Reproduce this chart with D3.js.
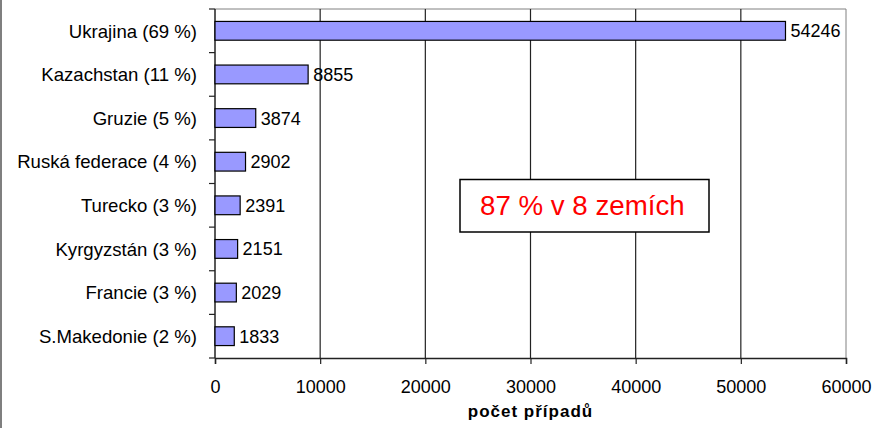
<!DOCTYPE html>
<html>
<head>
<meta charset="utf-8">
<script src="https://cdn.jsdelivr.net/npm/d3@7"></script>
<style>
  html, body { margin: 0; padding: 0; background: #fff; }
  svg { display: block; font-family: "Liberation Sans", Arial, sans-serif; }
</style>
</head>
<body>
<svg id="chart" width="874" height="428"></svg>
<script>
// Countries with the largest number of cases
const countries = ["Ukrajina (69 %)", "Kazachstan (11 %)", "Gruzie (5 %)", "Ruská federace (4 %)",
                   "Turecko (3 %)", "Kyrgyzstán (3 %)", "Francie (3 %)", "S.Makedonie (2 %)"];
const cases = [54246, 8855, 3874, 2902, 2391, 2151, 2029, 1833];
const xTicks = [0, 10000, 20000, 30000, 40000, 50000, 60000];
const xTitle = "počet případů";
const note = "87 % v 8 zemích";

const svg = d3.select("#chart");
const m = { left: 215, right: 846, top: 9, bottom: 358 };

const x = d3.scaleLinear().domain([0, 60000]).range([m.left, m.right]);
const y = d3.scaleBand().domain(countries).range([m.top, m.bottom]).paddingInner(0.57).paddingOuter(0.285);
const yTicks = d3.scaleBand().domain(countries).range([m.top, m.bottom]);

// outer chart border (left edge)
svg.append("line").attr("x1", 1).attr("x2", 1).attr("y1", 0).attr("y2", 428)
  .attr("stroke", "#555").attr("stroke-width", 1.5);

// plot frame (top and right)
svg.append("path")
  .attr("d", `M${m.left},${m.top}H${m.right}V${m.bottom}`)
  .attr("fill", "none").attr("stroke", "#808080").attr("stroke-width", 1);

// vertical gridlines
svg.append("g").selectAll("line").data(xTicks.slice(1, -1)).join("line")
  .attr("x1", d => x(d)).attr("x2", d => x(d))
  .attr("y1", m.top).attr("y2", m.bottom)
  .attr("stroke", "#222").attr("stroke-width", 1.2);

// x axis
const xAxis = svg.append("g").attr("transform", `translate(0,${m.bottom})`)
  .call(d3.axisBottom(x).tickValues(xTicks).tickFormat(d3.format("d")).tickSizeOuter(0).tickSize(6).tickPadding(16));
xAxis.select(".domain").attr("stroke", "#222").attr("stroke-width", 1.5);
xAxis.selectAll(".tick line").attr("stroke", "#222").attr("stroke-width", 1.2);
xAxis.selectAll("text").attr("font-size", 18).attr("fill", "#000")
  .attr("font-family", "'Liberation Sans', Arial, sans-serif");

// y axis line and category separators
svg.append("line").attr("x1", m.left).attr("x2", m.left).attr("y1", m.top).attr("y2", m.bottom)
  .attr("stroke", "#222").attr("stroke-width", 1.5);
const sepY = countries.map(c => yTicks(c)).concat([m.bottom]);
svg.append("g").selectAll("line").data(sepY).join("line")
  .attr("x1", m.left - 6).attr("x2", m.left)
  .attr("y1", d => d).attr("y2", d => d)
  .attr("stroke", "#222").attr("stroke-width", 1.2);

// category labels
svg.append("g").selectAll("text").data(countries).join("text")
  .attr("x", 197).attr("y", d => yTicks(d) + yTicks.bandwidth() / 2)
  .attr("dy", "0.36em").attr("text-anchor", "end").attr("font-size", 18.6).attr("fill", "#000")
  .text(d => d);

// bars
svg.append("g").selectAll("rect").data(countries).join("rect")
  .attr("x", x(0)).attr("y", d => y(d))
  .attr("width", (d, i) => x(cases[i]) - x(0)).attr("height", y.bandwidth())
  .attr("fill", "#9999FF").attr("stroke", "#000").attr("stroke-width", 1.2);

// value labels
svg.append("g").selectAll("text").data(countries).join("text")
  .attr("x", (d, i) => x(cases[i]) + 5).attr("y", d => y(d) + y.bandwidth() / 2)
  .attr("dy", "0.36em").attr("font-size", 18).attr("fill", "#000")
  .text((d, i) => cases[i]);

// axis title
svg.append("text").attr("x", (m.left + m.right) / 2).attr("y", 417)
  .attr("text-anchor", "middle").attr("font-size", 17).attr("font-weight", "bold")
  .attr("letter-spacing", 1)
  .text(xTitle);

// annotation box
svg.append("rect").attr("x", 460).attr("y", 179.5).attr("width", 249).attr("height", 52.5)
  .attr("fill", "#fff").attr("stroke", "#000").attr("stroke-width", 1.5);
svg.append("text").attr("x", 480).attr("y", 215).attr("font-size", 27.7).attr("fill", "#FF0000")
  .text(note);
</script>
</body>
</html>
